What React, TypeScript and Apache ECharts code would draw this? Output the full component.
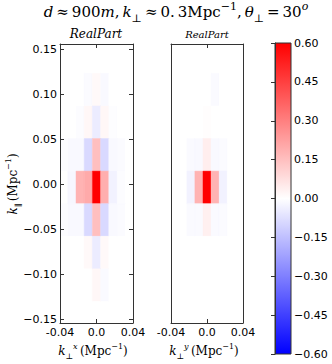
import React, { useEffect, useRef } from "react";
import * as echarts from "echarts";

// ---- data ----
const kPerp = [-0.036, -0.027, -0.018, -0.009, 0, 0.009, 0.018, 0.027, 0.036];
// k_parallel cell centres, top row first
const kPar = [0.1415, 0.1053, 0.0691, 0.0329, -0.0033, -0.0395, -0.0757, -0.1119, -0.1481];
const CELL_W = 0.009;
const CELL_H = 0.0362;

// Real part, k_perp^x panel (rows follow kPar, columns follow kPerp)
const realPartX = [
  [0, 0, 0, 0, 0, 0, 0, 0, 0],
  [0, 0, 0, -0.01, 0.015, -0.015, 0, 0, 0],
  [0, 0, -0.006, 0.02, -0.045, 0.02, -0.005, 0, 0],
  [-0.006, -0.015, -0.015, -0.09, 0.15, -0.09, -0.015, -0.01, 0],
  [0, -0.02, 0.18, 0.2, 0.6, 0.19, -0.03, -0.006, 0],
  [-0.006, -0.015, -0.015, -0.09, 0.15, -0.09, -0.015, -0.01, 0],
  [0, 0, 0, 0.015, -0.045, 0.015, 0, 0, 0],
  [0, 0, 0, 0, 0.02, -0.012, 0, 0, 0],
  [0, 0, 0, 0, 0, 0, 0, 0, 0],
];

// Real part, k_perp^y panel
const realPartY = [
  [0, 0, 0, 0, 0, 0, 0, 0, 0],
  [0, 0, 0, 0, 0, -0.012, 0, 0, 0],
  [0, 0, 0, 0, 0.005, 0, 0, 0, 0],
  [0, 0, -0.012, -0.015, 0.04, -0.015, -0.01, 0, 0],
  [0, 0, -0.03, 0.18, 0.6, 0.18, -0.03, 0, 0],
  [0, 0, -0.012, -0.012, 0.035, -0.012, -0.01, 0, 0],
  [0, 0, 0, 0, 0, 0, 0, 0, 0],
  [0, 0, 0, 0, 0, 0, 0, 0, 0],
  [0, 0, 0, 0, 0, 0, 0, 0, 0],
];

const xTicks = [-0.04, 0, 0.04];
const yTicks = [-0.15, -0.1, -0.05, 0, 0.05, 0.1, 0.15];
const cbarTicks = [-0.6, -0.45, -0.3, -0.15, 0, 0.15, 0.3, 0.45, 0.6];
const cbarRange = [-0.6, 0.6];

const titleText =
  "{i|d}{r|\u2009≈\u2009900}{i|m}{r|,\u2009}{i|k}{sub|⊥}{r|\u2009≈\u20090.\u20093Mpc}{sup|−1}{r|,\u2009}{i|θ}{sub|⊥}{r|\u2009=\u200930}{supi|o}";
const panelTitle = "{i|RealPart}";
const yName = "{i|k}{sub|∥}{r|\u2009(Mpc}{sup|−1}{r|)}";
const xNameX = "{i|k}{sub|⊥}{supi|x}{r|\u2009(Mpc}{sup|−1}{r|)}";
const xNameY = "{i|k}{sub|⊥}{supi|y}{r|\u2009(Mpc}{sup|−1}{r|)}";

const SERIF = '"DejaVu Serif", serif';
const SANS = '"DejaVu Sans", sans-serif';

function rich(size: number) {
  const lh = Math.round(size * 1.5);
  const s = Math.round(size * 0.7);
  return {
    r: { fontFamily: SERIF, fontSize: size, lineHeight: lh, fill: "#000" },
    i: { fontFamily: SERIF, fontSize: size, fontStyle: "italic", lineHeight: lh, fill: "#000" },
    sub: { fontFamily: SERIF, fontSize: s, lineHeight: s, verticalAlign: "bottom", fill: "#000" },
    sup: { fontFamily: SERIF, fontSize: s, lineHeight: s, verticalAlign: "top", fill: "#000" },
    supi: { fontFamily: SERIF, fontSize: s, fontStyle: "italic", lineHeight: s, verticalAlign: "top", fill: "#000" },
  };
}

function bwr(v: number): string {
  let t = v / 0.6;
  if (t > 1) t = 1;
  if (t < -1) t = -1;
  if (t >= 0) {
    const c = Math.round(255 * (1 - t));
    return `rgb(255,${c},${c})`;
  }
  const c = Math.round(255 * (1 + t));
  return `rgb(${c},${c},255)`;
}

function flatten(m: number[][]) {
  const out: number[][] = [];
  m.forEach((row, r) => row.forEach((v, c) => out.push([kPerp[c], kPar[r], v])));
  return out;
}

const renderCell = (params: any, api: any) => {
  const x = api.value(0);
  const y = api.value(1);
  const v = api.value(2);
  const p0 = api.coord([x - CELL_W / 2, y + CELL_H / 2]);
  const p1 = api.coord([x + CELL_W / 2, y - CELL_H / 2]);
  const rect = echarts.graphic.clipRectByRect(
    { x: p0[0], y: p0[1], width: p1[0] - p0[0], height: p1[1] - p0[1] },
    params.coordSys
  );
  if (!rect) return;
  const col = bwr(v);
  return { type: "rect", shape: rect, style: { fill: col, stroke: col, lineWidth: 0.4 } };
};

const renderBar = (params: any, api: any) => {
  const p0 = api.coord([0, api.value(1)]);
  const p1 = api.coord([1, api.value(0)]);
  return {
    type: "rect",
    shape: { x: p0[0], y: p0[1], width: p1[0] - p0[0], height: p1[1] - p0[1] },
    style: {
      fill: {
        type: "linear",
        x: 0,
        y: 0,
        x2: 0,
        y2: 1,
        colorStops: [
          { offset: 0, color: "#ff0000" },
          { offset: 0.5, color: "#ffffff" },
          { offset: 1, color: "#0000ff" },
        ],
      },
    },
  };
};

const AX = "#333";
const yLabel = (v: number) => (v < 0 ? "\u2212" : "") + Math.abs(v).toFixed(2);
const xLabel = (v: number) => (Math.abs(v) < 1e-9 ? "0.0" : v.toFixed(2));

function xAx(grid: number, pos: "bottom" | "top", labels: boolean) {
  return {
    type: "value",
    gridIndex: grid,
    position: pos,
    min: -0.04,
    max: 0.04,
    z: 5,
    axisLine: { show: true, onZero: false, lineStyle: { color: AX, width: 1 } },
    axisTick: { show: true, inside: true, length: 4, customValues: xTicks, lineStyle: { color: AX } },
    axisLabel: {
      show: labels,
      customValues: xTicks,
      formatter: xLabel,
      fontFamily: SANS,
      fontSize: 11,
      color: "#000",
      margin: 4,
    },
    splitLine: { show: false },
  };
}

function yAx(grid: number, pos: "left" | "right", labels: boolean, ticks: boolean) {
  return {
    type: "value",
    gridIndex: grid,
    position: pos,
    min: -0.154,
    max: 0.156,
    z: 5,
    axisLine: { show: true, onZero: false, lineStyle: { color: AX, width: 1 } },
    axisTick: { show: ticks, inside: true, length: 4, customValues: yTicks, lineStyle: { color: AX } },
    axisLabel: {
      show: labels,
      customValues: yTicks,
      formatter: yLabel,
      fontFamily: SANS,
      fontSize: 11,
      color: "#000",
      margin: 3,
    },
    splitLine: { show: false },
  };
}

export default function App() {
  const ref = useRef<HTMLDivElement>(null);
  useEffect(() => {
    if (!ref.current) return;
    const chart = echarts.init(ref.current, undefined, { renderer: "svg" });
    chart.setOption({
      animation: false,
      backgroundColor: "#fff",
      grid: [
        { left: 60, top: 44, width: 73, height: 279, outerBoundsMode: "none" },
        { left: 171, top: 44, width: 72, height: 279, outerBoundsMode: "none" },
        { left: 275, top: 43, width: 16, height: 311, outerBoundsMode: "none" },
      ],
      xAxis: [
        xAx(0, "bottom", true),
        xAx(0, "top", false),
        xAx(1, "bottom", true),
        xAx(1, "top", false),
        { type: "value", gridIndex: 2, min: 0, max: 1, show: false },
      ],
      yAxis: [
        yAx(0, "left", true, true),
        yAx(0, "right", false, true),
        yAx(1, "left", false, false),
        yAx(1, "right", false, false),
        {
          type: "value",
          gridIndex: 2,
          position: "right",
          min: -0.6,
          max: 0.6,
          z: 5,
          axisLine: { show: true, lineStyle: { color: AX, width: 1 } },
          axisTick: { show: true, inside: true, length: 4, customValues: cbarTicks, lineStyle: { color: AX } },
          axisLabel: {
            customValues: cbarTicks,
            formatter: yLabel,
            fontFamily: SANS,
            fontSize: 11,
            color: "#000",
            margin: 3,
          },
          splitLine: { show: false },
        },
      ],
      series: [
        {
          type: "custom",
          xAxisIndex: 0,
          yAxisIndex: 0,
          renderItem: renderCell,
          data: flatten(realPartX),
        },
        {
          type: "custom",
          xAxisIndex: 2,
          yAxisIndex: 2,
          renderItem: renderCell,
          data: flatten(realPartY),
        },
        {
          type: "custom",
          xAxisIndex: 4,
          yAxisIndex: 4,
          renderItem: renderBar,
          data: [cbarRange],
        },
      ],
      graphic: [
        {
          type: "rect",
          shape: { x: 275, y: 43, width: 16, height: 311 },
          style: { fill: "none", stroke: AX, lineWidth: 1 },
          z: 10,
        },
        {
          type: "text",
          x: 176,
          y: 12,
          style: { text: titleText, rich: rich(15), align: "center", verticalAlign: "middle" },
        },
        {
          type: "text",
          x: 96,
          y: 34,
          style: { text: panelTitle, rich: rich(12), align: "center", verticalAlign: "middle" },
        },
        {
          type: "text",
          x: 207,
          y: 34,
          style: { text: panelTitle, rich: rich(10), align: "center", verticalAlign: "middle" },
        },
        {
          type: "text",
          x: 13,
          y: 184,
          rotation: Math.PI / 2,
          style: { text: yName, rich: rich(12), align: "center", verticalAlign: "middle" },
        },
        {
          type: "text",
          x: 93,
          y: 351,
          style: { text: xNameX, rich: rich(12), align: "center", verticalAlign: "middle" },
        },
        {
          type: "text",
          x: 204,
          y: 351,
          style: { text: xNameY, rich: rich(12), align: "center", verticalAlign: "middle" },
        },
      ],
    });
    return () => chart.dispose();
  }, []);
  return (
    <div
      ref={ref}
      style={{ position: "fixed", left: 0, top: 0, width: 332, height: 364, background: "#fff" }}
    />
  );
}
